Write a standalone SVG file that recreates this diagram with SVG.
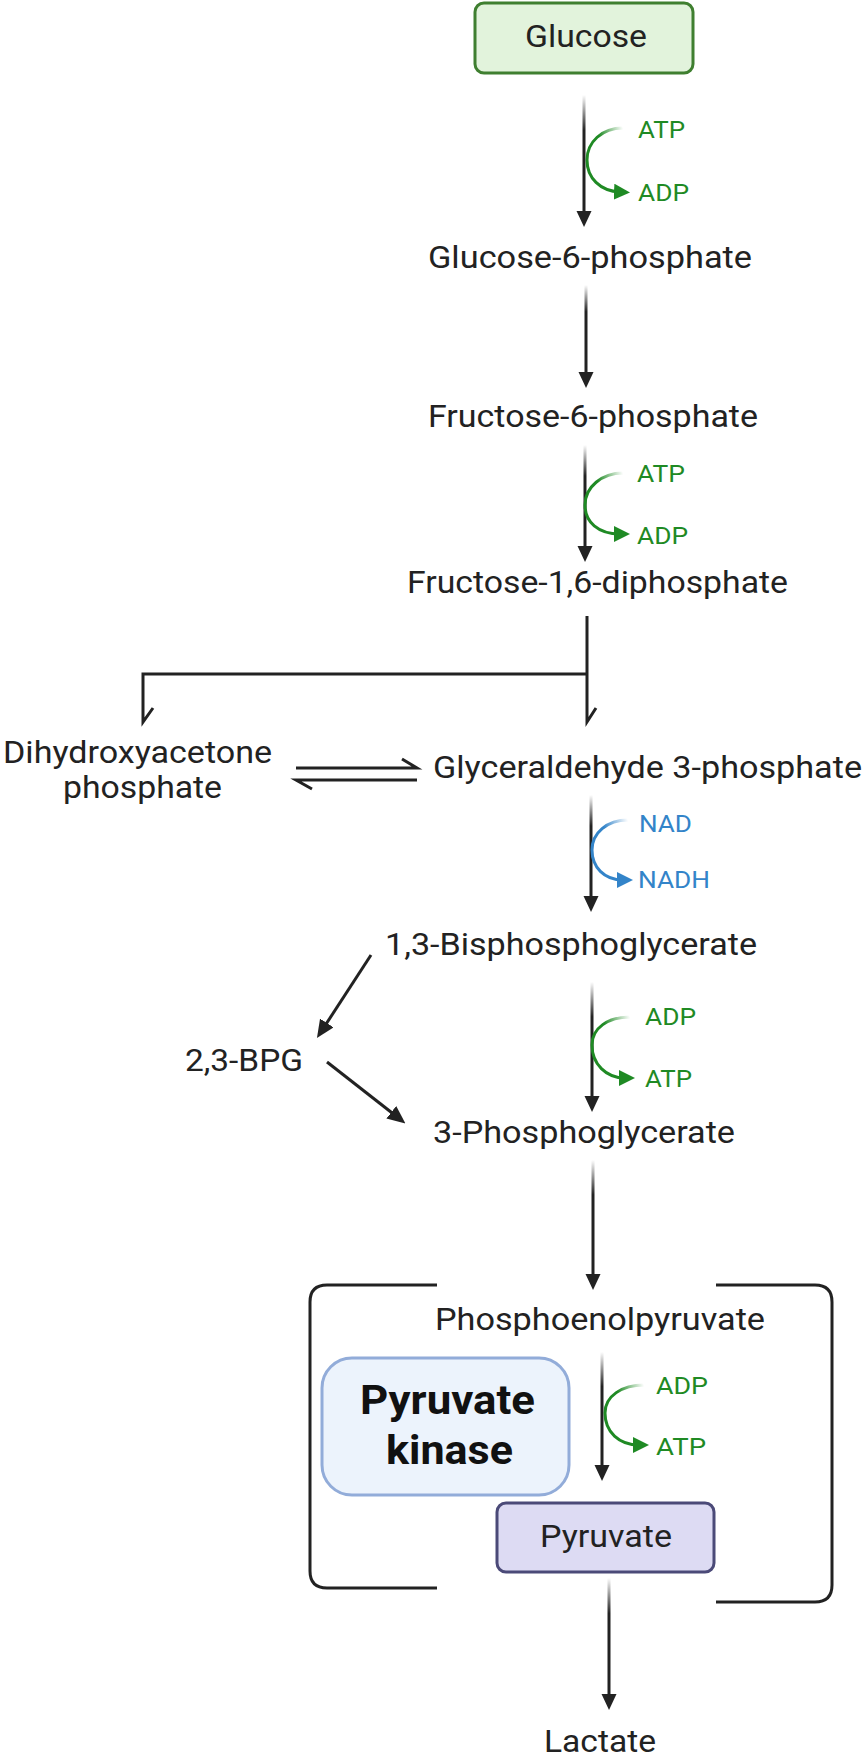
<svg xmlns="http://www.w3.org/2000/svg" width="867" height="1758" viewBox="0 0 867 1758">
<style>
.t{font-family:Roboto,"Liberation Sans",sans-serif;font-size:32px;fill:#222}
.s{font-family:Roboto,"Liberation Sans",sans-serif;font-size:24px}
.g{fill:#1f8a24}
.b{fill:#3384c9}
.bold{font-family:Roboto,"Liberation Sans",sans-serif;font-size:41px;font-weight:bold;fill:#111}
.ln{fill:url(#fade)}
.hd{fill:#222}
.st{fill:none;stroke:#222;stroke-width:3}
.cg{fill:none;stroke:url(#fadeG);stroke-width:3}
.cb{fill:none;stroke:url(#fadeB);stroke-width:3}
</style>
<defs>
<linearGradient id="fade" x1="0" y1="0" x2="0" y2="1">
<stop offset="0" stop-color="#222" stop-opacity="0"/>
<stop offset="0.3" stop-color="#222" stop-opacity="1"/>
<stop offset="1" stop-color="#222" stop-opacity="1"/>
</linearGradient>
<linearGradient id="fadeG" x1="1" y1="0" x2="0" y2="0.6">
<stop offset="0" stop-color="#1f8a24" stop-opacity="0"/>
<stop offset="0.55" stop-color="#1f8a24" stop-opacity="1"/>
<stop offset="1" stop-color="#1f8a24" stop-opacity="1"/>
</linearGradient>
<linearGradient id="fadeB" x1="1" y1="0" x2="0" y2="0.6">
<stop offset="0" stop-color="#3384c9" stop-opacity="0"/>
<stop offset="0.55" stop-color="#3384c9" stop-opacity="1"/>
<stop offset="1" stop-color="#3384c9" stop-opacity="1"/>
</linearGradient>
<marker id="mg" viewBox="0 0 16 16" markerWidth="16" markerHeight="16" refX="6" refY="8" orient="auto" markerUnits="userSpaceOnUse">
<path d="M0,0 L16,8 L0,16 z" fill="#1f8a24"/>
</marker>
<marker id="mb" viewBox="0 0 16 16" markerWidth="16" markerHeight="16" refX="6" refY="8" orient="auto" markerUnits="userSpaceOnUse">
<path d="M0,0 L16,8 L0,16 z" fill="#3384c9"/>
</marker>
<marker id="mk" viewBox="0 0 18 16" markerWidth="18" markerHeight="16" refX="6" refY="8" orient="auto" markerUnits="userSpaceOnUse">
<path d="M0,0 L18,8 L0,16 z" fill="#222"/>
</marker>
</defs>

<g id="connectors">
<rect class="ln" x="582.5" y="95" width="3" height="118"/><polygon class="hd" points="576.5,211 591.5,211 584,227"/>
<rect class="ln" x="584.5" y="285" width="3" height="89"/><polygon class="hd" points="578.5,372 593.5,372 586,388"/>
<rect class="ln" x="583.5" y="445" width="3" height="103"/><polygon class="hd" points="577.5,546 592.5,546 585,562"/>
<rect class="ln" x="589.5" y="795" width="3" height="103"/><polygon class="hd" points="583.5,896 598.5,896 591,912"/>
<rect class="ln" x="590.5" y="982" width="3" height="116"/><polygon class="hd" points="584.5,1096 599.5,1096 592,1112"/>
<rect class="ln" x="591.5" y="1160" width="3" height="116"/><polygon class="hd" points="585.5,1274 600.5,1274 593,1290"/>
<rect class="ln" x="600.5" y="1352" width="3" height="115"/><polygon class="hd" points="594.5,1465 609.5,1465 602,1481"/>
<rect class="ln" x="607.5" y="1578" width="3" height="118"/><polygon class="hd" points="601.5,1694 616.5,1694 609,1710"/>

<path class="cg" d="M623,128 C602,128 587,142 587,160 C587,178 600,191 620,192" marker-end="url(#mg)"/>
<path class="cg" d="M623,473 C602,473 585,487 585,505 C585,522 598,534 620,534" marker-end="url(#mg)"/>
<path class="cb" d="M628,820 C607,820 592,833 592,850 C592,867 604,880 623,880" marker-end="url(#mb)"/>
<path class="cg" d="M630,1017 C608,1017 592,1028 592,1045 C592,1064 606,1078 625,1078" marker-end="url(#mg)"/>
<path class="cg" d="M644,1385 C622,1385 605,1396 605,1413 C605,1432 619,1445 639,1445" marker-end="url(#mg)"/>

<path class="st" d="M587,616 V722 L596,708"/>
<path class="st" d="M587,674 H143 V722 L153,708"/>

<path class="st" d="M296,768 H417 L402,759"/>
<path class="st" d="M417,780 H296 L312,789"/>

<line class="st" x1="371" y1="955" x2="323.5" y2="1028" marker-end="url(#mk)"/>
<line class="st" x1="327" y1="1062" x2="396" y2="1116" marker-end="url(#mk)"/>

<path class="st" d="M437,1285 H327 Q310,1285 310,1302 V1571 Q310,1588 327,1588 H437"/>
<path class="st" d="M716,1285 H815 Q832,1285 832,1302 V1585 Q832,1602 815,1602 H716"/>
</g>

<g id="glucose">
<rect x="475" y="3" width="218" height="70" rx="9" fill="#e2f3dc" stroke="#3f7f30" stroke-width="3"/>
<text class="t" x="525" y="47" textLength="122" lengthAdjust="spacingAndGlyphs">Glucose</text>
</g>
<g id="atp1"><text class="s g" x="638" y="138" textLength="47" lengthAdjust="spacingAndGlyphs">ATP</text></g>
<g id="adp1"><text class="s g" x="638" y="201" textLength="51" lengthAdjust="spacingAndGlyphs">ADP</text></g>
<g id="g6p"><text class="t" x="428" y="268" textLength="324" lengthAdjust="spacingAndGlyphs">Glucose-6-phosphate</text></g>
<g id="f6p"><text class="t" x="428" y="427" textLength="330" lengthAdjust="spacingAndGlyphs">Fructose-6-phosphate</text></g>
<g id="atp2"><text class="s g" x="637" y="482" textLength="48" lengthAdjust="spacingAndGlyphs">ATP</text></g>
<g id="adp2"><text class="s g" x="637" y="544" textLength="51" lengthAdjust="spacingAndGlyphs">ADP</text></g>
<g id="f16dp"><text class="t" x="407" y="593" textLength="381" lengthAdjust="spacingAndGlyphs">Fructose-1,6-diphosphate</text></g>
<g id="dhap">
<text class="t" x="3" y="763" textLength="269" lengthAdjust="spacingAndGlyphs">Dihydroxyacetone</text>
<text class="t" x="63" y="798" textLength="159" lengthAdjust="spacingAndGlyphs">phosphate</text>
</g>
<g id="g3p"><text class="t" x="433" y="778" textLength="429" lengthAdjust="spacingAndGlyphs">Glyceraldehyde 3-phosphate</text></g>
<g id="nad"><text class="s b" x="639" y="832" textLength="53" lengthAdjust="spacingAndGlyphs">NAD</text></g>
<g id="nadh"><text class="s b" x="638" y="888" textLength="72" lengthAdjust="spacingAndGlyphs">NADH</text></g>
<g id="bpg13"><text class="t" x="385" y="955" textLength="372" lengthAdjust="spacingAndGlyphs">1,3-Bisphosphoglycerate</text></g>
<g id="adp3"><text class="s g" x="645" y="1025" textLength="51" lengthAdjust="spacingAndGlyphs">ADP</text></g>
<g id="atp3"><text class="s g" x="645" y="1087" textLength="47" lengthAdjust="spacingAndGlyphs">ATP</text></g>
<g id="bpg23"><text class="t" x="185" y="1071" textLength="118" lengthAdjust="spacingAndGlyphs">2,3-BPG</text></g>
<g id="pg3"><text class="t" x="433" y="1143" textLength="302" lengthAdjust="spacingAndGlyphs">3-Phosphoglycerate</text></g>
<g id="pep"><text class="t" x="435" y="1330" textLength="330" lengthAdjust="spacingAndGlyphs">Phosphoenolpyruvate</text></g>
<g id="kinase">
<rect x="322" y="1358" width="247" height="137" rx="30" fill="#ecf3fc" stroke="#92acd9" stroke-width="3"/>
<text class="bold" x="360" y="1414" textLength="175" lengthAdjust="spacingAndGlyphs">Pyruvate</text>
<text class="bold" x="386" y="1464" textLength="127" lengthAdjust="spacingAndGlyphs">kinase</text>
</g>
<g id="adp4"><text class="s g" x="656" y="1394" textLength="52" lengthAdjust="spacingAndGlyphs">ADP</text></g>
<g id="atp4"><text class="s g" x="656" y="1455" textLength="50" lengthAdjust="spacingAndGlyphs">ATP</text></g>
<g id="pyruvate">
<rect x="497" y="1503" width="217" height="69" rx="9" fill="#dddbf3" stroke="#4b4a78" stroke-width="3"/>
<text class="t" x="540" y="1547" textLength="132" lengthAdjust="spacingAndGlyphs">Pyruvate</text>
</g>
<g id="lactate"><text class="t" x="544" y="1752" textLength="112" lengthAdjust="spacingAndGlyphs">Lactate</text></g>
</svg>
